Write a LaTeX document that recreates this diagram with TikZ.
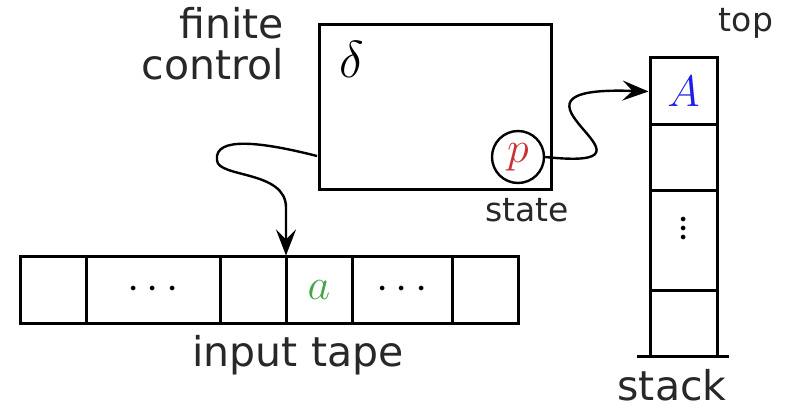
\RequirePackage{fix-cm}
\documentclass[tikz,border=0pt]{standalone}
\usepackage{fontspec}
\newfontfamily\labelfont{DejaVu Sans}
\usetikzlibrary{arrows.meta}
\definecolor{pred}{RGB}{200,50,50}
\definecolor{agreen}{RGB}{70,165,70}
\definecolor{Ablue}{RGB}{30,30,235}
\definecolor{txtgray}{RGB}{40,40,40}
\newcommand\stackdots{\vbox{\baselineskip=9pt\lineskiplimit=-1000pt\hbox{$\cdotp$}\hbox{$\cdotp$}\hbox{$\cdotp$}}}
\begin{document}
\begin{tikzpicture}[x=1pt,y=-1pt,
  frame/.style={draw, line width=3pt, inner sep=0pt},
  cell/.style={frame, minimum height=66pt},
  lbl/.style={font=\labelfont\fontsize{41}{41}\selectfont, inner sep=0pt, text=txtgray},
  smalllbl/.style={font=\labelfont\fontsize{33}{33}\selectfont, inner sep=0pt, text=txtgray},
  sym/.style={font=\fontsize{44}{44}\selectfont, inner sep=0pt},
  link/.style={line width=2.4pt, -{Stealth[length=26pt,width=20pt,inset=10pt]}}
]
\useasboundingbox (0,0) rectangle (790,406);

% finite control
\node[frame, minimum width=232pt, minimum height=165pt] (fc) at (435,107.5) {};
\node[sym, font=\fontsize{52}{52}\selectfont] (delta) at (352,59) {$\delta$};
\node[draw, circle, line width=2.4pt, minimum size=52pt, inner sep=0pt, sym] (p) at (518,157) {$\color{pred}p$};
\node[smalllbl, anchor=base] (state) at (527,222) {state};
\node[lbl, anchor=base east] (finite) at (284,39) {finite};
\node[lbl, anchor=base east] (control) at (284,80) {control};

% input tape
\node[cell, minimum width=66pt] (t1) at (53,290) {};
\node[cell, minimum width=134pt] (t2) at (153,290) {};
\node[cell, minimum width=66pt] (t3) at (253,290) {};
\node[cell, minimum width=66pt] (t4) at (319,290) {};
\node[cell, minimum width=100pt] (t5) at (402,290) {};
\node[cell, minimum width=66pt] (t6) at (485,290) {};
\node[sym] (d1) at (t2) {$\cdots$};
\node[sym] (a) at (t4) {$\color{agreen}a$};
\node[sym] (d2) at (t5) {$\cdots$};
\node[lbl, anchor=base] (tape) at (298,366) {input tape};

% stack
\node[frame, minimum width=67pt, minimum height=67pt] (st1) at (683.5,91.5) {};
\node[frame, minimum width=67pt, minimum height=66pt] (st2) at (683.5,158) {};
\node[frame, minimum width=67pt, minimum height=99pt] (st3) at (683.5,240.5) {};
\node[frame, minimum width=67pt, minimum height=66pt] (st4) at (683.5,323) {};
\node[sym] (A) at (st1) {$\color{Ablue}A$};
\node[sym] (vd) at (683.5,230) {\stackdots};
\coordinate (bl) at (637,356);
\coordinate (br) at (729,356);
\draw[line width=3pt] (bl) -- (br);
\node[smalllbl, anchor=base] (top) at (746,32) {top};
\node[lbl, anchor=base] (stack) at (672,400) {stack};

% connectors
\coordinate (fcout) at (317,156);
\coordinate (tip) at ([xshift=1.5pt]t4.north west);
\coordinate (bend) at ([yshift=48pt]tip);
\draw[link] (fcout) .. controls (262,142) and (214,136) .. (217,160)
            .. controls (217,178) and (286,170) .. (bend) -- (tip);
\draw[link] (p.east) .. controls (688,172) and (470,85) .. (st1.west);
\end{tikzpicture}
\end{document}
